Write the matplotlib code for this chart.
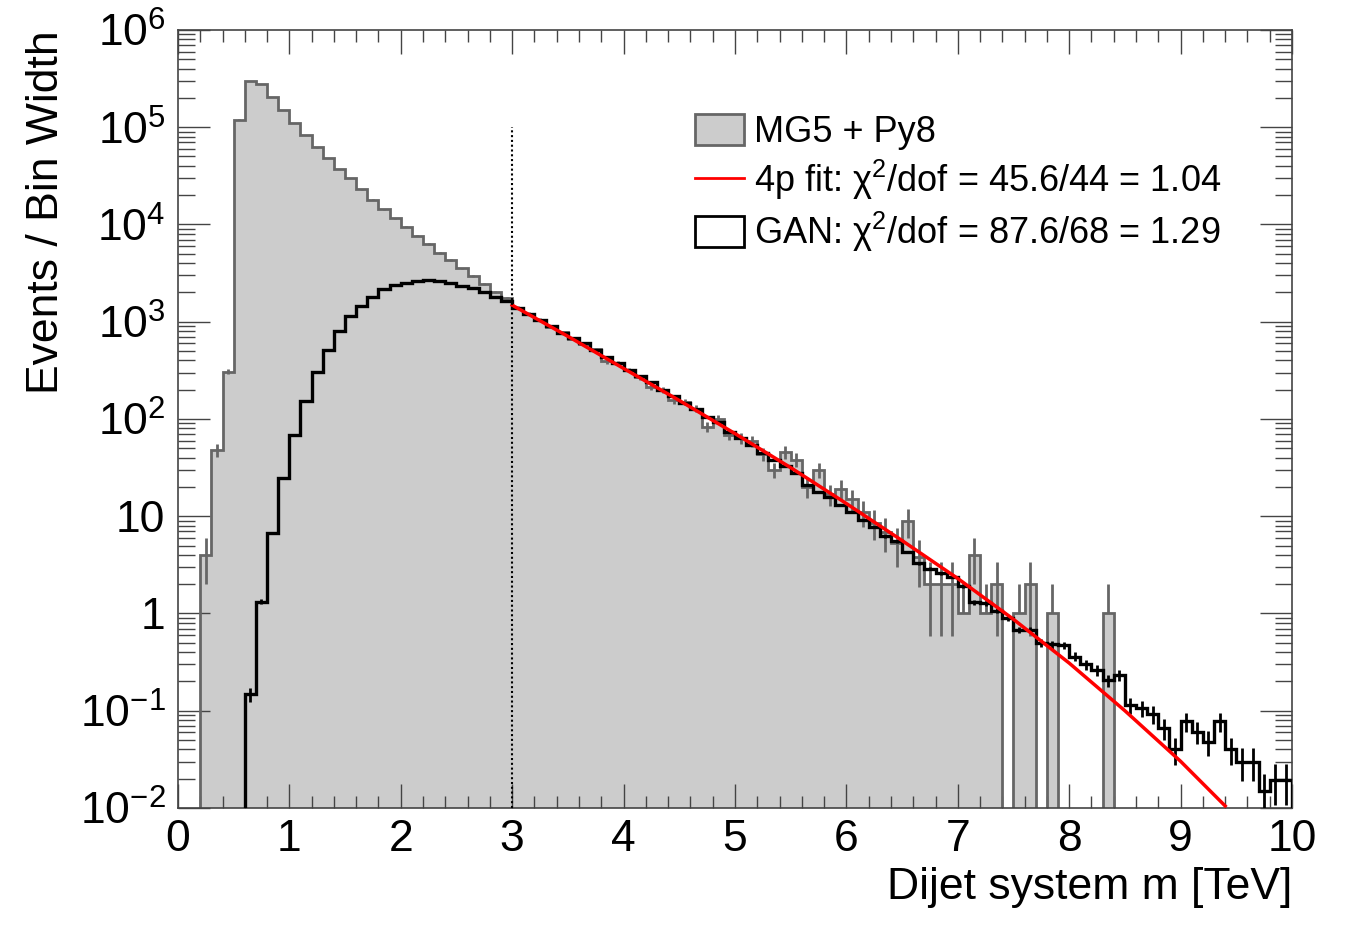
import numpy as np
import matplotlib
matplotlib.use("Agg")
import matplotlib.pyplot as plt
from matplotlib.patches import Patch
from matplotlib.lines import Line2D
from matplotlib.ticker import MultipleLocator, FixedLocator, LogLocator, NullFormatter

plt.rcParams['font.family'] = ['Liberation Sans', 'DejaVu Sans']
plt.rcParams['mathtext.fontset'] = 'custom'
plt.rcParams['mathtext.rm'] = 'Liberation Sans'
plt.rcParams['mathtext.it'] = 'Liberation Sans:italic'
plt.rcParams['mathtext.bf'] = 'Liberation Sans:bold'

# binning: 100 bins of 0.1 TeV
bin_width = 0.1
n_bins = 100

# MG5 + Py8 (events / bin width), one value per bin
mg5 = [0, 0, 4, 48, 307, 1.2e5, 3.0e5, 2.8e5, 2.06e5, 1.5e5,
       1.11e5, 8.3e4, 6.2e4, 4.8e4, 3.7e4, 3.0e4, 2.3e4, 1.8e4, 1.43e4, 1.16e4,
       9.5e3, 7.7e3, 6.3e3, 5.1e3, 4.3e3, 3.55e3, 2.95e3, 2.44e3, 2.04e3, 1.74e3,
       1400, 1210, 1050, 890, 780, 670, 590, 520, 390, 375,
       320, 270, 215, 200, 155, 150, 128, 83, 100, 69,
       63, 59, 44, 30, 46, 38, 20, 30, 17, 19,
       14.9, 11.1, 8.6, 6.9, 5.3, 9.0, 3.8, 2, 2, 2,
       1, 4, 1, 2, 0, 1, 2, 0, 1, 0,
       0, 0, 0, 1, 0, 0, 0, 0, 0, 0,
       0, 0, 0, 0, 0, 0, 0, 0, 0, 0]

# GAN (events / bin width)
gan = [0, 0, 0, 0, 0, 0, 0.148, 1.32, 6.7, 24.5,
       69, 154, 307, 513, 809, 1146, 1452, 1812, 2158, 2390,
       2520, 2640, 2680, 2620, 2480, 2340, 2210, 2010, 1810, 1640,
       1375, 1200, 1040, 900, 770, 676, 600, 513, 437, 373,
       318, 275, 241, 199, 173, 145, 126, 106, 94, 74,
       63, 54, 44.5, 38, 32.5, 27.7, 21, 17.8, 15.8, 13.1,
       11.1, 9.1, 7.7, 6.2, 5.5, 4.3, 3.3, 2.9, 2.6, 2.4,
       1.9, 1.3, 1.27, 1.07, 0.90, 0.68, 0.68, 0.50, 0.48, 0.47,
       0.36, 0.30, 0.26, 0.205, 0.233, 0.115, 0.106, 0.093, 0.066, 0.040,
       0.078, 0.061, 0.048, 0.078, 0.040, 0.030, 0.030, 0.0148, 0.0195, 0.0195]

# 4-parameter fit curve
fit_x = [3.0, 3.5, 4.0, 4.5, 5.0, 5.5, 6.0, 6.5, 7.0, 7.5, 8.0, 8.5, 9.0, 9.4]
fit_y = [1480, 708, 331, 155, 70.8, 31.6, 13.5, 5.62, 2.29, 0.871,
         0.309, 0.100, 0.0302, 0.0105]

fit_label = '4p fit: χ$^{2}$/dof = 45.6/44 = 1.04'
gan_label = 'GAN: χ$^{2}$/dof = 87.6/68 = 1.29'
mg5_label = 'MG5 + Py8'

mg5 = np.array(mg5, dtype=float)
gan = np.array(gan, dtype=float)
edges = np.arange(n_bins + 1) * bin_width
centers = edges[:-1] + bin_width / 2
floor = 1e-4


def draw_errors(ax, vals, err, color, lw):
    # vertical error bars; lower half dropped when it would reach zero (log axis)
    for xc, v, e in zip(centers, vals, err):
        if v <= 0:
            continue
        lo = v - e if v - e > 0 else v
        ax.plot([xc, xc], [lo, v + e], color=color, lw=lw, zorder=3,
                solid_capstyle='butt')


fig = plt.figure(figsize=(13.45, 9.25), dpi=100)
ax = fig.add_axes([0.1323, 0.1265, 0.8283, 0.8411])

# MG5 filled histogram
mg5_draw = np.where(mg5 > 0, mg5, floor)
ax.stairs(mg5_draw, edges, baseline=floor, fill=True, facecolor='#cccccc',
          edgecolor='none', zorder=1)
ax.stairs(mg5_draw, edges, baseline=floor, color='#666666', lw=2.0, zorder=2)
draw_errors(ax, mg5, np.sqrt(mg5), '#666666', 2.0)

# GAN histogram
gan_draw = np.where(gan > 0, gan, floor)
ax.stairs(gan_draw, edges, baseline=floor, color='black', lw=2.4, zorder=3)
draw_errors(ax, gan, np.sqrt(gan * 0.004), 'black', 2.0)

# fit
ax.plot(fit_x, fit_y, color='red', lw=2.5, zorder=4)

# fit range start
ax.plot([3, 3], [1e-2, 1e5], color='black', lw=1.5, ls=(0, (1, 1.3)), zorder=5)

ax.set_xlim(0, 10)
ax.set_yscale('log')
ax.set_ylim(1e-2, 1e6)

ax.xaxis.set_major_locator(MultipleLocator(1))
ax.xaxis.set_minor_locator(MultipleLocator(0.2))
ax.yaxis.set_major_locator(FixedLocator([10.0**k for k in range(-2, 7)]))
ax.yaxis.set_minor_locator(LogLocator(base=10, subs=np.arange(2, 10), numticks=20))
ax.yaxis.set_minor_formatter(NullFormatter())
ylabels = [r'$10^{-2}$', r'$10^{-1}$', '1', '10', r'$10^{2}$', r'$10^{3}$',
           r'$10^{4}$', r'$10^{5}$', r'$10^{6}$']
ax.set_yticklabels(ylabels)

ax.tick_params(axis='both', which='both', direction='in', top=True, right=True,
               labelsize=32, color='#444444')
ax.tick_params(axis='x', which='major', length=17, width=1.0, pad=8)
ax.tick_params(axis='x', which='minor', length=8.5, width=1.0)
ax.tick_params(axis='y', which='major', length=23, width=1.0, pad=9)
ax.tick_params(axis='y', which='minor', length=12, width=1.0)
for s in ax.spines.values():
    s.set_color('#444444')
    s.set_linewidth(1.2)

ax.set_xlabel('Dijet system m [TeV]', fontsize=32, loc='right', labelpad=5)
ax.set_ylabel('Events / Bin Width', fontsize=32, loc='top', labelpad=9)

handles = [Patch(facecolor='#cccccc', edgecolor='#666666', lw=2),
           Line2D([], [], color='red', lw=2),
           Patch(facecolor='white', edgecolor='black', lw=2)]
ax.legend(handles, [mg5_label, fit_label, gan_label], loc='upper left',
          bbox_to_anchor=(0.464, 0.892), frameon=False, fontsize=26,
          handlelength=1.35, handleheight=0.95, handletextpad=0.3,
          labelspacing=0.22, borderpad=0, borderaxespad=0)

fig.savefig('out.png', dpi=100)
